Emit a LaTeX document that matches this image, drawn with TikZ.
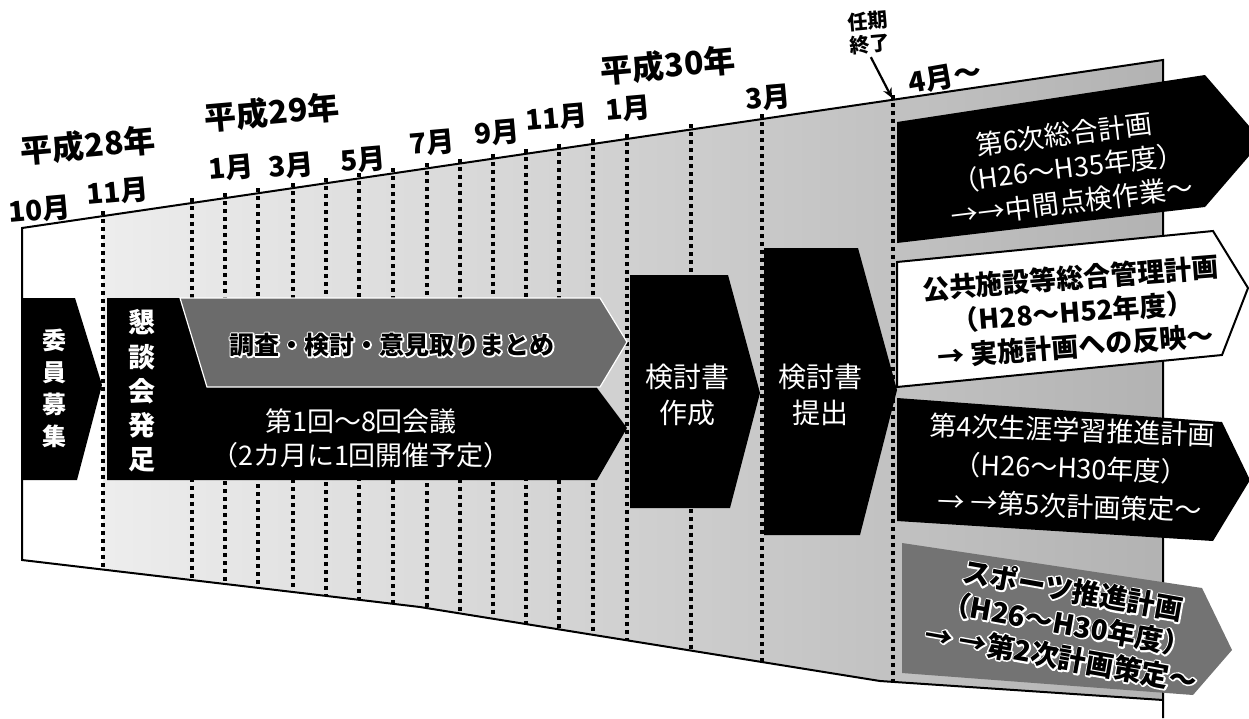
\documentclass[tikz,border=0pt]{standalone}
\usepackage{fontspec}
\newfontfamily\jp{Noto Sans CJK JP}
\usetikzlibrary{calc,arrows.meta}
\tikzset{
  yearlab/.style={font=\jp\bfseries\fontsize{32}{34}\selectfont, inner sep=0pt, rotate=5},
  monlab/.style={font=\jp\bfseries\fontsize{28}{30}\selectfont, inner sep=0pt, rotate=5},
  smalllab/.style={font=\jp\bfseries\fontsize{20}{23}\selectfont, inner sep=0pt, align=center, rotate=5},
  dotline/.style={line width=3.4pt, dash pattern=on 4pt off 4pt},
  frameline/.style={line width=2pt, line join=miter},
  blackshape/.style={fill=black},
  grayarrow/.style={fill=black!58, draw=white, line width=1.2pt},
  grayplan/.style={fill=black!55},
  whiteplan/.style={fill=white, draw=black, line width=2pt},
  vtext/.style={text=white, font=\jp\bfseries\fontsize{24}{32}\selectfont, align=center, inner sep=0pt},
  wtext/.style={text=white, font=\jp\fontsize{27}{34}\selectfont, align=center, inner sep=0pt},
  btext/.style={text=black, font=\jp\bfseries\fontsize{27}{34}\selectfont, align=center, inner sep=0pt},
  otext/.style={text=black, font=\jp\bfseries\fontsize{26}{34}\selectfont, align=center, inner sep=0pt},
}
% black glyphs with a white halo: a white stroked copy under the black text
\newcommand{\olt}[1]{\makebox[0pt][l]{\special{pdf:literal direct 1 1 1 RG 3 w 1 j 1 Tr}#1\special{pdf:literal direct 0 Tr 0 0 0 RG 1 w 0 j}}#1}
\begin{document}
\begin{tikzpicture}[x=1pt,y=-1pt]
\useasboundingbox (0,0) rectangle (1249,718);
\clip (0,0) rectangle (1249,718);
% ---- timeline band
\fill[white] (22,228) -- (1163,60) -- (1163,700) -- (880,681) -- (420,607) -- (22,560) -- cycle;
\begin{scope}
  \clip (22,228) -- (1163,60) -- (1163,700) -- (880,681) -- (420,607) -- (22,560) -- cycle;
  \shade[left color=black!7, right color=black!30] (103,0) rectangle (1163,720);
\end{scope}
\begin{scope}
  \clip (22,221) -- (1163,53) -- (1163,700) -- (880,681) -- (420,607) -- (22,560) -- cycle;
  \foreach \x in {103,192,225,258,293,326,359,393,427,460,493,526,559,593,627,691,762,893}{
    \pgfmathsetmacro\yt{223-0.14724*(\x-22)}
    \draw[dotline] (\x,\yt) -- (\x,720);
  }
\end{scope}
\draw[frameline] (22,228) -- (1163,60) -- (1163,718);
\draw[frameline] (1163,700) -- (880,681) -- (420,607) -- (22,560) -- (22,227);
% ---- left process arrows
\fill[blackshape] (22,298) -- (75,298) -- (102,385) -- (77,480) -- (22,480) -- cycle;
\node[vtext] (boshu) at (54,388) {委\\員\\募\\集};
\fill[blackshape] (107,298) -- (597,298) -- (597,388) -- (627,428) -- (597,480) -- (107,480) -- cycle;
\node[vtext, font=\jp\bfseries\fontsize{27}{34.25}\selectfont] (kondan) at (142,391) {懇\\談\\会\\発\\足};
\fill[grayarrow] (180,298) -- (600,298) -- (627,342) -- (600,387) -- (207,387) -- cycle;
\node[otext, font=\jp\bfseries\fontsize{25}{30}\selectfont] (chosa) at (392,345) {\olt{調査・検討・意見取りまとめ}};
\node[wtext] (kaigi) at (361,438) {第1回～8回会議\\（2カ月に1回開催予定）};
\fill[blackshape] (630,275) -- (728,275) -- (760,393) -- (730,508) -- (630,508) -- cycle;
\node[wtext, font=\jp\fontsize{28}{36}\selectfont] (sakusei) at (687,395) {検討書\\作成};
\fill[blackshape] (764,248) -- (858,248) -- (897,390) -- (860,535) -- (764,535) -- cycle;
\node[wtext, font=\jp\fontsize{28}{36}\selectfont] (teishutsu) at (820,395) {検討書\\提出};
% ---- right plans
\fill[blackshape] (897,122) -- (1205,75) -- (1262,141) -- (1205,207) -- (897,243) -- cycle;
\node[wtext, rotate=7] (plan1) at (1068,168) {第6次総合計画\\（H26～H35年度）\\→→中間点検作業～};
\filldraw[whiteplan] (897,262) -- (1213,231) -- (1248,288) -- (1222,355) -- (897,387) -- cycle;
\node[btext, rotate=4.5] (plan2) at (1073,312) {公共施設等総合管理計画\\（H28～H52年度）\\→ 実施計画への反映～};
\fill[blackshape] (897,398) -- (1222,422) -- (1250,480) -- (1213,541) -- (897,521) -- cycle;
\node[wtext, rotate=-2, font=\jp\fontsize{27}{38}\selectfont] (plan3) at (1071,468) {第4次生涯学習推進計画\\（H26～H30年度）\\→ →第5次計画策定～};
\fill[grayplan] (902,543) -- (1202,588) -- (1232,650) -- (1193,695) -- (902,673) -- cycle;
\node[otext, font=\jp\bfseries\fontsize{28}{34}\selectfont, rotate=-10] (plan4) at (1067,624) {\olt{スポーツ推進計画}\\\olt{（H26～H30年度）}\\\olt{→ →第2次計画策定～}};
% ---- labels
\node[yearlab] (h28) at (88,145) {平成28年};
\node[yearlab] (h29) at (272,112) {平成29年};
\node[yearlab] (h30) at (668,65) {平成30年};
\node[monlab] (m10) at (40,210) {10月};
\node[monlab] (m11) at (118,192) {11月};
\node[monlab] (m1a) at (231,168) {1月};
\node[monlab] (m3a) at (291,166) {3月};
\node[monlab] (m5) at (363,160) {5月};
\node[monlab] (m7) at (432,143) {7月};
\node[monlab] (m9) at (497,133) {9月};
\node[monlab] (m11b) at (557,118) {11月};
\node[monlab] (m1b) at (628,109) {1月};
\node[monlab] (m3b) at (768,98) {3月};
\node[monlab, rotate=5] (m4) at (945,77) {4月～};
\node[smalllab] (ninki) at (869,33) {任期\\終了};
\coordinate (arrE) at (892,98);
\draw[line width=2.2pt, -{Stealth[length=10pt,width=9pt]}] (ninki.south) ++(0,3) -- (arrE);
\end{tikzpicture}
\end{document}
